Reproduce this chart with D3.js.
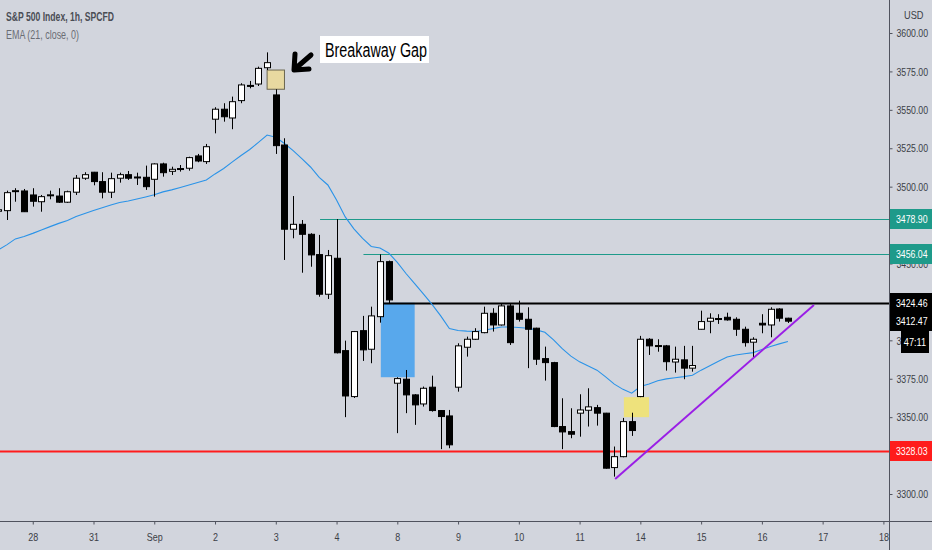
<!DOCTYPE html>
<html>
<head>
<meta charset="utf-8">
<script src="https://cdn.jsdelivr.net/npm/d3@7"></script>
<style>
  html, body { margin: 0; padding: 0; background: #d2d5dd; }
  svg { display: block; }
  text { font-family: "Liberation Sans Narrow", "Liberation Sans", sans-serif; }
</style>
</head>
<body>
<div id="chart"></div>
<script>
// hourly bars, first one is the partial bar cut by the left edge (bar -1)
var firstBar = -1;
var openVals = [3484.0,
  3484.4, 3497.0, 3497.2, 3494.6, 3490.2, 3494.4, 3493.9, 3489.9, 3496.4, 3505.5,
  3509.4, 3503.3, 3496.4, 3505.5, 3507.8, 3506.3, 3506.1, 3504.8, 3514.8, 3510.0,
  3511.5, 3512.0, 3520.0, 3516.3, 3543.9, 3550.4, 3544.7, 3556.0, 3565.9, 3566.8,
  3577.4, 3559.7, 3527.1, 3472.3, 3475.5, 3469.0, 3455.8, 3430.0, 3453.4, 3393.3,
  3363.4, 3406.3, 3394.2, 3415.4, 3451.2, 3372.1, 3374.7, 3364.5, 3358.6, 3369.5,
  3354.3, 3350.8, 3369.5, 3395.5, 3400.7, 3405.0, 3417.6, 3410.0, 3422.4, 3417.6,
  3413.7, 3407.9, 3388.1, 3385.5, 3343.9, 3340.6, 3352.6, 3354.5, 3356.2, 3352.6,
  3317.2, 3324.3, 3347.1, 3363.4, 3400.7, 3396.6, 3396.4, 3385.9, 3387.3, 3381.9,
  3407.2, 3412.4, 3414.2, 3415.0, 3413.7, 3407.2, 3398.8, 3411.1, 3410.0, 3420.4,
  3414.4];
var highVals = [3486.0,
  3497.4, 3499.0, 3498.5, 3499.0, 3494.6, 3497.4, 3499.0, 3497.4, 3507.6, 3509.4,
  3509.6, 3509.4, 3509.1, 3509.1, 3510.2, 3509.1, 3513.7, 3515.2, 3515.6, 3513.0,
  3514.1, 3519.5, 3521.3, 3527.8, 3551.7, 3554.3, 3558.6, 3567.3, 3568.8, 3578.1,
  3587.4, 3563.4, 3531.5, 3493.9, 3478.3, 3469.7, 3468.6, 3458.8, 3478.9, 3399.8,
  3406.1, 3415.9, 3421.9, 3456.0, 3451.9, 3376.0, 3380.7, 3365.0, 3369.9, 3377.0,
  3354.5, 3354.7, 3398.1, 3402.4, 3407.9, 3421.9, 3420.9, 3424.1, 3423.7, 3425.8,
  3421.5, 3408.2, 3395.9, 3386.0, 3362.3, 3355.8, 3364.9, 3368.8, 3358.0, 3352.8,
  3330.9, 3349.5, 3352.9, 3402.9, 3401.4, 3400.7, 3397.0, 3395.9, 3396.4, 3396.4,
  3419.3, 3417.6, 3417.0, 3418.0, 3415.0, 3408.9, 3402.0, 3417.0, 3421.5, 3420.9,
  3414.7];
var lowVals = [3482.0,
  3478.3, 3490.2, 3483.5, 3487.0, 3483.7, 3491.8, 3489.4, 3489.4, 3494.6, 3504.4,
  3500.9, 3492.4, 3492.6, 3502.6, 3504.4, 3501.1, 3497.9, 3493.5, 3506.5, 3507.6,
  3509.8, 3510.4, 3515.9, 3514.8, 3534.7, 3542.3, 3537.4, 3554.3, 3564.0, 3565.5,
  3575.9, 3521.3, 3452.3, 3466.4, 3444.0, 3447.9, 3428.4, 3426.9, 3391.5, 3350.0,
  3362.5, 3386.6, 3385.1, 3411.5, 3424.1, 3339.6, 3352.6, 3345.0, 3356.9, 3353.6,
  3329.2, 3329.8, 3366.6, 3389.4, 3400.3, 3404.6, 3405.7, 3409.6, 3397.0, 3412.2,
  3381.9, 3384.0, 3373.8, 3343.5, 3329.2, 3336.3, 3337.3, 3343.9, 3344.5, 3316.5,
  3311.3, 3323.9, 3337.8, 3363.0, 3390.5, 3392.6, 3380.3, 3379.0, 3374.7, 3379.6,
  3407.0, 3404.6, 3410.7, 3412.8, 3402.9, 3395.9, 3389.0, 3404.6, 3402.0, 3412.2,
  3411.3];
var closeVals = [3485.0,
  3496.1, 3497.4, 3483.7, 3490.5, 3493.5, 3494.7, 3489.9, 3496.7, 3505.5, 3507.8,
  3503.3, 3496.4, 3505.2, 3507.8, 3505.5, 3506.0, 3500.0, 3514.8, 3509.1, 3511.3,
  3511.8, 3518.9, 3516.7, 3526.0, 3550.4, 3545.5, 3555.3, 3566.2, 3565.6, 3577.0,
  3580.7, 3526.7, 3472.3, 3475.5, 3469.0, 3455.6, 3430.0, 3455.1, 3391.9, 3363.8,
  3405.7, 3393.8, 3415.9, 3451.2, 3426.3, 3375.1, 3364.5, 3358.0, 3368.8, 3354.3,
  3350.4, 3332.0, 3396.4, 3400.7, 3405.7, 3417.6, 3410.0, 3422.4, 3398.5, 3413.7,
  3407.2, 3387.7, 3385.5, 3343.9, 3340.4, 3338.9, 3354.7, 3356.7, 3352.6, 3316.8,
  3324.3, 3347.1, 3341.3, 3400.7, 3396.4, 3396.3, 3386.1, 3387.7, 3381.9, 3383.6,
  3412.2, 3414.4, 3414.0, 3413.3, 3407.2, 3398.5, 3400.7, 3410.0, 3420.2, 3414.4,
  3412.47];
// EMA(21, close)
var emaVals = [3458.8,
  3462.1, 3466.0, 3467.6, 3469.6, 3471.8, 3474.0, 3476.1, 3478.0, 3480.6, 3482.6,
  3484.5, 3486.3, 3488.1, 3489.7, 3490.7, 3492.0, 3493.3, 3494.7, 3496.6, 3497.9,
  3499.5, 3501.1, 3502.7, 3504.3, 3508.3, 3511.8, 3516.1, 3520.3, 3524.2, 3528.8,
  3533.6, 3532.2, 3528.1, 3523.5, 3518.2, 3512.8, 3506.0, 3501.1, 3491.3, 3480.3,
  3472.5, 3466.3, 3461.1, 3460.1, 3456.9, 3450.7, 3443.5, 3436.9, 3430.2, 3423.4,
  3415.9, 3407.7, 3406.4, 3406.0, 3405.8, 3406.6, 3407.6, 3408.7, 3408.7, 3408.4,
  3407.9, 3406.8, 3405.2, 3400.3, 3394.6, 3389.7, 3386.0, 3383.3, 3380.6, 3376.2,
  3371.5, 3368.1, 3365.6, 3369.9, 3371.6, 3373.7, 3374.9, 3375.7, 3376.4, 3377.3,
  3380.6, 3383.5, 3386.4, 3389.1, 3390.5, 3391.3, 3392.0, 3394.0, 3396.0, 3397.7,
  3399.2];

var dayLabels = ["28", "31", "Sep", "2", "3", "4", "8", "9", "10", "11", "14", "15", "16", "17", "18"];
var dayStartBar = [3, 10, 17, 24, 31, 38, 45, 52, 59, 66, 73, 80, 87, 94, 101];
var priceTicks = [3300, 3325, 3350, 3375, 3400, 3425, 3450, 3475, 3500, 3525, 3550, 3575, 3600];

// horizontal levels drawn on the chart
var levelPrices = [3478.90, 3456.04, 3424.46, 3328.03];
var levelFromBar = [36.1, 41.1, 43.3, -2];
var levelKind = ["teal", "teal", "black", "red"];

// rectangles: [fromBar, toBar, topPrice, bottomPrice]
var gapBox = [30.0, 32.0, 3575.9, 3563.4];
var blueBox = [43.1, 47.0, 3424.46, 3376.0];
var yellowBox = [71.1, 74.0, 3363.0, 3350.0];
// purple trend line: [bar, price] ends
var trendLine = [[70.1, 3309.8], [93.0, 3423.0]];
var lastPrice = 3412.47;

var W = 932, H = 550, axisX = 889, axisY = 521;
var colors = {
  bg: "#d2d5dd", teal: "#1e9a8a", black: "#000000", red: "#ff1c1c",
  ema: "#2a93e8", purple: "#9a1ee6", blue: "#58a8ec", yellow: "#eee27c", gap: "#e8d9a0"
};

var bars = openVals.map(function (o, j) {
  return { i: j + firstBar, o: o, h: highVals[j], l: lowVals[j], c: closeVals[j], ema: emaVals[j] };
});

var x = d3.scaleLinear().domain([0, 101]).range([6.7, 883.4]);
var y = d3.scaleLinear().domain([3300, 3600]).range([494, 33]);

// squeeze text horizontally, the reference uses a narrow face
function condense(sel, k) {
  sel.each(function () {
    var w = this.getComputedTextLength();
    d3.select(this).attr("textLength", w * k).attr("lengthAdjust", "spacingAndGlyphs");
  });
  return sel;
}

var svg = d3.select("#chart").append("svg")
  .attr("width", W).attr("height", H)
  .style("background", colors.bg);

svg.append("defs").append("clipPath").attr("id", "plot")
  .append("rect").attr("x", 0).attr("y", 0).attr("width", axisX).attr("height", axisY);

var plot = svg.append("g").attr("clip-path", "url(#plot)");

// boxes sit under the candles
function drawBox(b, fill, stroke) {
  plot.append("rect")
    .attr("x", x(b[0])).attr("y", y(b[2]))
    .attr("width", x(b[1]) - x(b[0])).attr("height", y(b[3]) - y(b[2]))
    .attr("fill", fill)
    .attr("stroke", stroke || "none")
    .attr("stroke-width", 1);
}
drawBox(gapBox, colors.gap, "#6b6650");
drawBox(blueBox, colors.blue);
drawBox(yellowBox, colors.yellow);

// levels
levelPrices.forEach(function (p, k) {
  plot.append("line")
    .attr("x1", x(levelFromBar[k])).attr("x2", axisX)
    .attr("y1", Math.round(y(p)) + 0.5).attr("y2", Math.round(y(p)) + 0.5)
    .attr("stroke", colors[levelKind[k]])
    .attr("stroke-width", levelKind[k] == "teal" ? 1 : 2);
});

// EMA
var emaLine = d3.line().x(function (d) { return x(d.i); }).y(function (d) { return y(d.ema); });
plot.append("path").datum(bars)
  .attr("d", emaLine)
  .attr("fill", "none")
  .attr("stroke", colors.ema)
  .attr("stroke-width", 1.1);

// candles
var bw = 6;
var cg = plot.selectAll("g.bar").data(bars).enter().append("g").attr("class", "bar");
cg.append("line")
  .attr("x1", function (d) { return Math.round(x(d.i)) + 0.5; })
  .attr("x2", function (d) { return Math.round(x(d.i)) + 0.5; })
  .attr("y1", function (d) { return y(d.h); })
  .attr("y2", function (d) { return y(d.l); })
  .attr("stroke", "#000").attr("stroke-width", 1);
cg.append("rect")
  .attr("x", function (d) { return Math.round(x(d.i)) - bw / 2 + 0.5; })
  .attr("y", function (d) { return y(Math.max(d.o, d.c)); })
  .attr("width", bw)
  .attr("height", function (d) { return Math.max(1, Math.abs(y(d.o) - y(d.c))); })
  .attr("fill", function (d) { return d.c >= d.o ? "#ffffff" : "#000000"; })
  .attr("stroke", "#000").attr("stroke-width", 1);

// trend line
plot.append("line")
  .attr("x1", x(trendLine[0][0])).attr("y1", y(trendLine[0][1]))
  .attr("x2", x(trendLine[1][0])).attr("y2", y(trendLine[1][1]))
  .attr("stroke", colors.purple).attr("stroke-width", 2);

// breakaway gap note + arrow
svg.append("rect").attr("x", 320).attr("y", 36).attr("width", 109).attr("height", 27).attr("fill", "#ffffff");
svg.append("text").attr("x", 325).attr("y", 57)
  .attr("font-size", 20).attr("textLength", 102).attr("lengthAdjust", "spacingAndGlyphs")
  .attr("fill", "#000").text("Breakaway Gap");
svg.append("path").attr("d", "M311,55 L296,68 M295,54 L294,70 L309,69")
  .attr("fill", "none").attr("stroke", "#000").attr("stroke-width", 5)
  .attr("stroke-linecap", "round").attr("stroke-linejoin", "round");

// header
svg.append("text").attr("x", 6).attr("y", 21).attr("font-size", 12.5).attr("font-weight", "bold")
  .attr("fill", "#4a4d55").attr("textLength", 108).attr("lengthAdjust", "spacingAndGlyphs")
  .text("S&P 500 Index, 1h, SPCFD");
svg.append("text").attr("x", 6).attr("y", 39).attr("font-size", 12.5)
  .attr("fill", "#6a6d75").attr("textLength", 73).attr("lengthAdjust", "spacingAndGlyphs")
  .text("EMA (21, close, 0)");

// price axis
svg.append("line").attr("x1", axisX + 0.5).attr("x2", axisX + 0.5).attr("y1", 0).attr("y2", H)
  .attr("stroke", "#50535e").attr("stroke-width", 1);
var yAxis = d3.axisRight(y).tickValues(priceTicks).tickSize(3).tickPadding(4)
  .tickFormat(function (d) { return d3.format(".2f")(d); });
var ya = svg.append("g").attr("transform", "translate(" + (axisX + 0.5) + ",0)").call(yAxis);
ya.select(".domain").remove();
ya.selectAll("line").attr("stroke", "#50535e");
condense(ya.selectAll("text").attr("font-size", 11.5).attr("fill", "#3b3e46")
  .style("font-family", "'Liberation Sans', sans-serif"), 0.76);
condense(svg.append("text").attr("x", 904).attr("y", 19).attr("font-size", 11.5).attr("fill", "#3b3e46").text("USD"), 0.8);

// time axis
svg.append("line").attr("x1", 0).attr("x2", W).attr("y1", axisY + 0.5).attr("y2", axisY + 0.5)
  .attr("stroke", "#50535e").attr("stroke-width", 1);
var xAxis = d3.axisBottom(x).tickValues(dayStartBar).tickSize(3).tickPadding(8)
  .tickFormat(function (d, k) { return dayLabels[k]; });
var xa = svg.append("g").attr("transform", "translate(0," + (axisY + 0.5) + ")").call(xAxis);
xa.select(".domain").remove();
xa.selectAll("line").attr("stroke", "#50535e");
condense(xa.selectAll("text").attr("font-size", 11.5).attr("fill", "#3b3e46")
  .style("font-family", "'Liberation Sans', sans-serif"), 0.78);

// price labels on the axis
function priceTag(p, fill, h) {
  var cy = Math.round(y(p));
  svg.append("rect").attr("x", axisX + 1).attr("y", cy - h / 2).attr("width", W - axisX - 1).attr("height", h)
    .attr("fill", fill);
  condense(svg.append("text").attr("x", axisX + 7).attr("y", cy + 4).attr("font-size", 11.5).attr("fill", "#ffffff")
    .text(d3.format(".2f")(p)), 0.76);
}
priceTag(levelPrices[0], colors.teal, 20);
priceTag(levelPrices[1], colors.teal, 20);
priceTag(levelPrices[3], colors.red, 20);
priceTag(levelPrices[2], "#000", 20);
priceTag(lastPrice, "#000", 20);
svg.append("rect").attr("x", 901).attr("y", 331).attr("width", 28).attr("height", 22).attr("fill", "#000");
condense(svg.append("text").attr("x", 915).attr("y", 346).attr("text-anchor", "middle")
  .attr("font-size", 11.5).attr("fill", "#fff").text("47:11"), 0.8);
</script>
</body>
</html>
